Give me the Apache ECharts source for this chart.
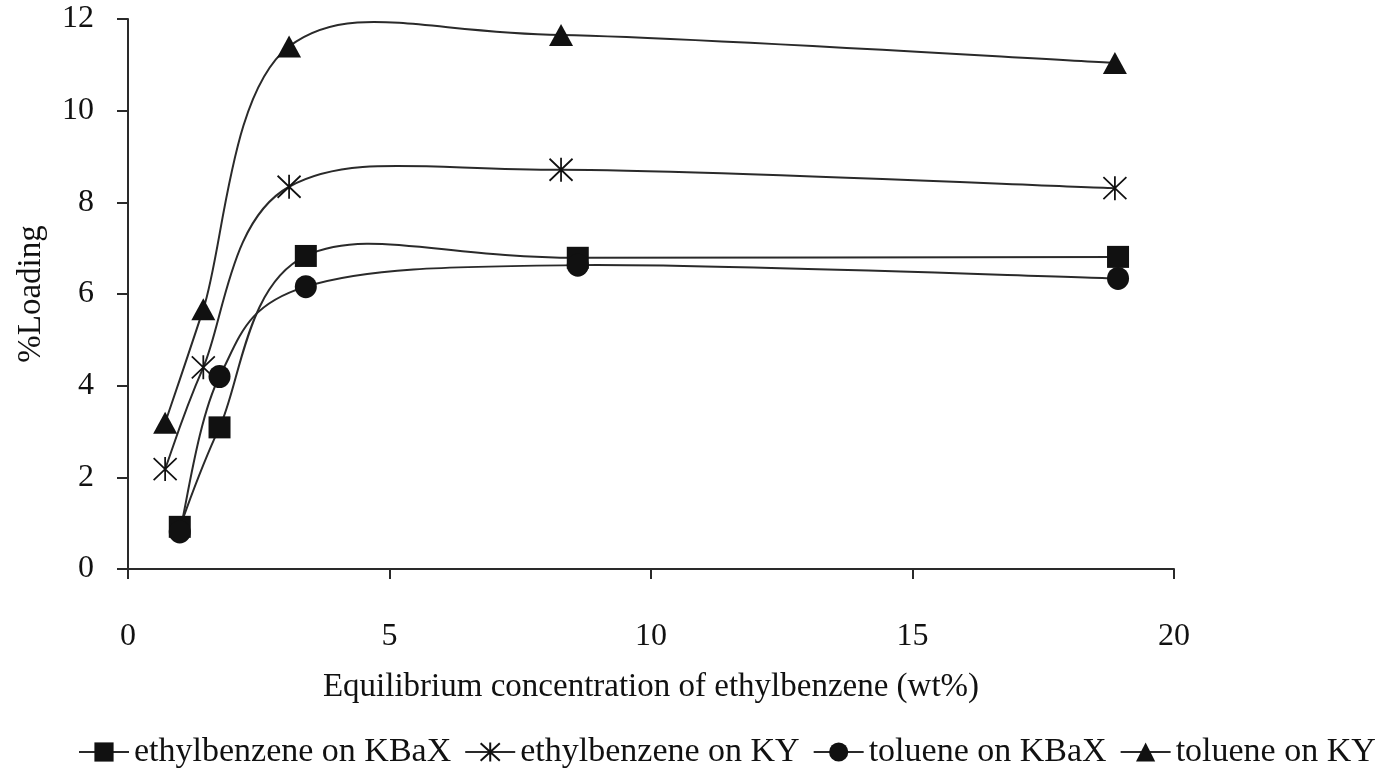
<!DOCTYPE html>
<html>
<head>
<meta charset="utf-8">
<script src="https://cdn.jsdelivr.net/npm/echarts@6/dist/echarts.min.js"></script>
<style>
  html, body { margin: 0; padding: 0; background: #fff; }
  #chart { width: 1381px; height: 770px; }
</style>
</head>
<body>
<div id="chart"></div>
<script>
// Adsorption isotherms: %Loading vs equilibrium concentration of ethylbenzene
const seriesNames = ['ethylbenzene on KBaX', 'ethylbenzene on KY', 'toluene on KBaX', 'toluene on KY'];

// equilibrium concentration (wt%) for each adsorbent
const concKBaX = [0.99, 1.75, 3.40, 8.60, 18.93];
const concKY   = [0.71, 1.44, 3.08, 8.28, 18.87];

// %Loading
const ethylbenzeneKBaX = [0.92, 3.09, 6.83, 6.79, 6.81];
const ethylbenzeneKY   = [2.18, 4.40, 8.34, 8.71, 8.31];
const tolueneKBaX      = [0.81, 4.20, 6.16, 6.63, 6.34];
const tolueneKY        = [3.19, 5.67, 11.40, 11.65, 11.04];

// axis tick values
const xTickValues = [0, 5, 10, 15, 20];
const yTickValues = [0, 2, 4, 6, 8, 10, 12];

const FONT = '"Liberation Serif", "Times New Roman", serif';
const INK = '#111';
const LINE = '#2a2a2a';

// six-spoke asterisk marker
const asterisk = 'path://M12,0L12,24M1,1L23,23M1,23L23,1';

const seriesDefs = [
  { name: seriesNames[0], xs: concKBaX, ys: ethylbenzeneKBaX, symbol: 'rect',     size: [22, 22], hollow: false },
  { name: seriesNames[1], xs: concKY,   ys: ethylbenzeneKY,   symbol: asterisk,   size: [23, 24], hollow: true  },
  { name: seriesNames[2], xs: concKBaX, ys: tolueneKBaX,      symbol: 'circle',   size: [22, 23], hollow: false },
  { name: seriesNames[3], xs: concKY,   ys: tolueneKY,        symbol: 'triangle', size: [24, 22], hollow: false }
];

// Smoothed curve through the points (Catmull-Rom segments as cubic Beziers)
function curveSeries(def) {
  return {
    type: 'custom',
    silent: true,
    z: 1,
    legendHoverLink: false,
    data: def.xs.map((x, i) => [x, def.ys[i]]),
    encode: { x: 0, y: 1 },
    renderItem: function (params, api) {
      if (params.dataIndex !== 0) return null;
      const p = def.xs.map((x, i) => api.coord([x, def.ys[i]]));
      const n = p.length;
      const children = [];
      for (let i = 0; i < n - 1; i++) {
        const p0 = p[i - 1] || p[i];
        const p1 = p[i];
        const p2 = p[i + 1];
        const p3 = p[i + 2] || p[i + 1];
        children.push({
          type: 'bezierCurve',
          shape: {
            x1: p1[0], y1: p1[1],
            cpx1: p1[0] + (p2[0] - p0[0]) / 6, cpy1: p1[1] + (p2[1] - p0[1]) / 6,
            cpx2: p2[0] - (p3[0] - p1[0]) / 6, cpy2: p2[1] - (p3[1] - p1[1]) / 6,
            x2: p2[0], y2: p2[1]
          },
          style: { fill: null, stroke: LINE, lineWidth: 2 }
        });
      }
      return { type: 'group', children: children };
    }
  };
}

function markerSeries(def) {
  return {
    name: def.name,
    type: 'line',
    z: 3,
    data: def.xs.map((x, i) => [x, def.ys[i]]),
    symbol: def.symbol,
    symbolSize: def.size,
    showSymbol: true,
    lineStyle: { opacity: 0, width: 0 },
    itemStyle: def.hollow
      ? { color: 'rgba(0,0,0,0)', borderColor: INK, borderWidth: 1.8 }
      : { color: INK, borderWidth: 0 },
    emphasis: { disabled: true }
  };
}

const series = [];
seriesDefs.forEach(d => series.push(curveSeries(d)));
seriesDefs.forEach(d => series.push(markerSeries(d)));

const chart = echarts.init(document.getElementById('chart'), null, { renderer: 'canvas' });
chart.setOption({
  animation: false,
  backgroundColor: '#fff',
  textStyle: { fontFamily: FONT, color: INK },
  grid: { left: 128, right: 207, top: 19, bottom: 201, containLabel: false },
  xAxis: {
    type: 'value',
    min: xTickValues[0],
    max: xTickValues[xTickValues.length - 1],
    interval: xTickValues[1] - xTickValues[0],
    name: 'Equilibrium concentration of ethylbenzene (wt%)',
    nameLocation: 'middle',
    nameGap: 102,
    nameTextStyle: { fontFamily: FONT, fontSize: 33, color: INK },
    axisLine: { lineStyle: { color: LINE, width: 2 } },
    axisTick: { length: 10, lineStyle: { color: LINE, width: 2 } },
    axisLabel: { fontFamily: FONT, fontSize: 32, color: INK, margin: 52 },
    splitLine: { show: false }
  },
  yAxis: {
    type: 'value',
    min: yTickValues[0],
    max: yTickValues[yTickValues.length - 1],
    interval: yTickValues[1] - yTickValues[0],
    name: '%Loading',
    nameLocation: 'middle',
    nameGap: 80,
    nameTextStyle: { fontFamily: FONT, fontSize: 33, color: INK },
    axisLine: { lineStyle: { color: LINE, width: 2 } },
    axisTick: { length: 11, lineStyle: { color: LINE, width: 2 } },
    axisLabel: { fontFamily: FONT, fontSize: 32, color: INK, margin: 34 },
    splitLine: { show: false }
  },
  legend: {
    data: seriesNames,
    left: 78,
    top: 735,
    width: 1303,
    padding: 0,
    itemWidth: 50,
    itemHeight: 24,
    itemGap: 13,
    selectedMode: false,
    textStyle: { fontFamily: FONT, fontSize: 34, color: INK },
    lineStyle: { color: LINE, width: 2, opacity: 1 }
  },
  series: series
});
</script>
</body>
</html>
